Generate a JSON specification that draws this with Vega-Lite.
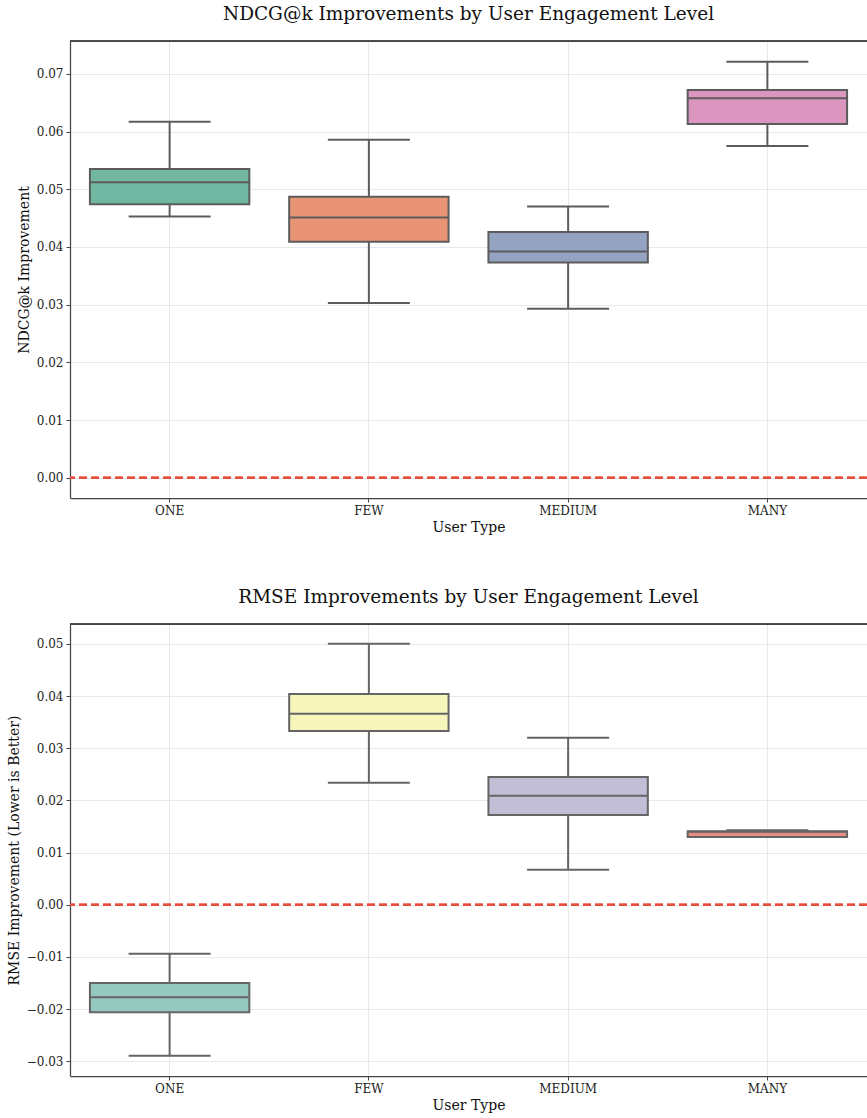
{
  "$schema": "https://vega.github.io/schema/vega-lite/v6.json",
  "padding": {"left": 7, "top": 4, "right": 0, "bottom": 5},
  "columns": 1,
  "spacing": 53,
  "resolve": {"scale": {"fill": "independent"}},
  "datasets": {
    "ndcg": [
      {"type": "ONE", "min": 0.0453, "q1": 0.0474, "median": 0.0512, "q3": 0.0535, "max": 0.0617},
      {"type": "FEW", "min": 0.0303, "q1": 0.0409, "median": 0.0451, "q3": 0.0487, "max": 0.0586},
      {"type": "MEDIUM", "min": 0.0293, "q1": 0.0373, "median": 0.0392, "q3": 0.0426, "max": 0.0470},
      {"type": "MANY", "min": 0.0575, "q1": 0.0613, "median": 0.0658, "q3": 0.0672, "max": 0.0721}
    ],
    "rmse": [
      {"type": "ONE", "min": -0.0289, "q1": -0.0206, "median": -0.0177, "q3": -0.0150, "max": -0.0094},
      {"type": "FEW", "min": 0.0234, "q1": 0.0333, "median": 0.0366, "q3": 0.0404, "max": 0.0500},
      {"type": "MEDIUM", "min": 0.0067, "q1": 0.0172, "median": 0.0209, "q3": 0.0245, "max": 0.0320},
      {"type": "MANY", "min": 0.0130, "q1": 0.0130, "median": 0.0140, "q3": 0.0141, "max": 0.0143}
    ]
  },
  "concat": [
    {
      "width": 797,
      "height": 457,
      "title": {"text": "NDCG@k Improvements by User Engagement Level", "frame": "group", "offset": 17},
      "data": {"name": "ndcg"},
      "layer": [
        {
          "mark": {"type": "rule", "color": "#5c5c5c", "strokeWidth": 2},
          "encoding": {
            "x": {"field": "type", "type": "nominal", "sort": ["ONE", "FEW", "MEDIUM", "MANY"],
                  "scale": {"paddingInner": 0, "paddingOuter": 0},
                  "axis": {"title": "User Type", "grid": true, "bandPosition": 0.5}},
            "y": {"field": "min", "type": "quantitative", "title": "NDCG@k Improvement",
                  "scale": {"domain": [-0.0035, 0.0757], "nice": false, "zero": false},
                  "axis": {"values": [0, 0.01, 0.02, 0.03, 0.04, 0.05, 0.06, 0.07], "format": ".2f"}},
            "y2": {"field": "max"}
          }
        },
        {
          "mark": {"type": "bar", "stroke": "#5c5c5c", "strokeWidth": 2, "width": {"band": 0.8}},
          "encoding": {
            "x": {"field": "type", "type": "nominal", "sort": ["ONE", "FEW", "MEDIUM", "MANY"]},
            "y": {"field": "q1", "type": "quantitative", "title": "NDCG@k Improvement"},
            "y2": {"field": "q3"},
            "fill": {"field": "type", "type": "nominal", "legend": null,
                     "scale": {"domain": ["ONE", "FEW", "MEDIUM", "MANY"], "range": ["#71b7a1", "#e99575", "#95a3c3", "#db96c0"]}}
          }
        },
        {
          "mark": {"type": "tick", "color": "#5c5c5c", "thickness": 2, "size": 160, "opacity": 1},
          "encoding": {
            "x": {"field": "type", "type": "nominal", "sort": ["ONE", "FEW", "MEDIUM", "MANY"]},
            "y": {"field": "median", "type": "quantitative", "title": "NDCG@k Improvement"}
          }
        },
        {
          "mark": {"type": "tick", "color": "#5c5c5c", "thickness": 2, "size": 82, "opacity": 1},
          "encoding": {
            "x": {"field": "type", "type": "nominal", "sort": ["ONE", "FEW", "MEDIUM", "MANY"]},
            "y": {"field": "min", "type": "quantitative", "title": "NDCG@k Improvement"}
          }
        },
        {
          "mark": {"type": "tick", "color": "#5c5c5c", "thickness": 2, "size": 82, "opacity": 1},
          "encoding": {
            "x": {"field": "type", "type": "nominal", "sort": ["ONE", "FEW", "MEDIUM", "MANY"]},
            "y": {"field": "max", "type": "quantitative", "title": "NDCG@k Improvement"}
          }
        },
        {
          "mark": {"type": "rule", "color": "#e74c3c", "strokeDash": [8, 4], "strokeWidth": 2},
          "encoding": {"y": {"datum": 0}}
        },
        {
          "mark": {"type": "rule", "color": "#444444", "strokeWidth": 1.25},
          "encoding": {"y": {"datum": 0.0757}}
        }
      ]
    },
    {
      "width": 797,
      "height": 452,
      "title": {"text": "RMSE Improvements by User Engagement Level", "frame": "group", "offset": 17},
      "data": {"name": "rmse"},
      "layer": [
        {
          "mark": {"type": "rule", "color": "#656565", "strokeWidth": 2},
          "encoding": {
            "x": {"field": "type", "type": "nominal", "sort": ["ONE", "FEW", "MEDIUM", "MANY"],
                  "scale": {"paddingInner": 0, "paddingOuter": 0},
                  "axis": {"title": "User Type", "grid": true, "bandPosition": 0.5}},
            "y": {"field": "min", "type": "quantitative", "title": "RMSE Improvement (Lower is Better)",
                  "scale": {"domain": [-0.0328, 0.0538], "nice": false, "zero": false},
                  "axis": {"values": [-0.03, -0.02, -0.01, 0, 0.01, 0.02, 0.03, 0.04, 0.05], "format": ".2f"}},
            "y2": {"field": "max"}
          }
        },
        {
          "mark": {"type": "bar", "stroke": "#656565", "strokeWidth": 2, "width": {"band": 0.8}},
          "encoding": {
            "x": {"field": "type", "type": "nominal", "sort": ["ONE", "FEW", "MEDIUM", "MANY"]},
            "y": {"field": "q1", "type": "quantitative", "title": "RMSE Improvement (Lower is Better)"},
            "y2": {"field": "q3"},
            "fill": {"field": "type", "type": "nominal", "legend": null,
                     "scale": {"domain": ["ONE", "FEW", "MEDIUM", "MANY"], "range": ["#96cac1", "#f6f6bc", "#c1bed6", "#ea8e83"]}}
          }
        },
        {
          "mark": {"type": "tick", "color": "#656565", "thickness": 2, "size": 158, "opacity": 1},
          "encoding": {
            "x": {"field": "type", "type": "nominal", "sort": ["ONE", "FEW", "MEDIUM", "MANY"]},
            "y": {"field": "median", "type": "quantitative", "title": "RMSE Improvement (Lower is Better)"}
          }
        },
        {
          "mark": {"type": "tick", "color": "#656565", "thickness": 2, "size": 82, "opacity": 1},
          "encoding": {
            "x": {"field": "type", "type": "nominal", "sort": ["ONE", "FEW", "MEDIUM", "MANY"]},
            "y": {"field": "min", "type": "quantitative", "title": "RMSE Improvement (Lower is Better)"}
          }
        },
        {
          "mark": {"type": "tick", "color": "#656565", "thickness": 2, "size": 82, "opacity": 1},
          "encoding": {
            "x": {"field": "type", "type": "nominal", "sort": ["ONE", "FEW", "MEDIUM", "MANY"]},
            "y": {"field": "max", "type": "quantitative", "title": "RMSE Improvement (Lower is Better)"}
          }
        },
        {
          "mark": {"type": "rule", "color": "#e74c3c", "strokeDash": [8, 4], "strokeWidth": 2},
          "encoding": {"y": {"datum": 0}}
        },
        {
          "mark": {"type": "rule", "color": "#444444", "strokeWidth": 1.25},
          "encoding": {"y": {"datum": 0.0538}}
        }
      ]
    }
  ],
  "config": {
    "font": "DejaVu Serif",
    "view": {"stroke": null},
    "title": {"fontSize": 18.5, "fontWeight": "normal", "color": "#111111"},
    "axis": {
      "labelFontSize": 12, "titleFontSize": 14, "titleFontWeight": "normal",
      "labelColor": "#222222", "titleColor": "#111111",
      "domainColor": "#444444", "domainWidth": 1.25,
      "tickColor": "#444444", "tickSize": 4, "labelPadding": 3,
      "gridColor": "#e9e9e9", "gridWidth": 1
    },
    "axisY": {"titlePadding": 5},
    "axisX": {"titlePadding": 4, "labelAngle": 0}
  }
}
